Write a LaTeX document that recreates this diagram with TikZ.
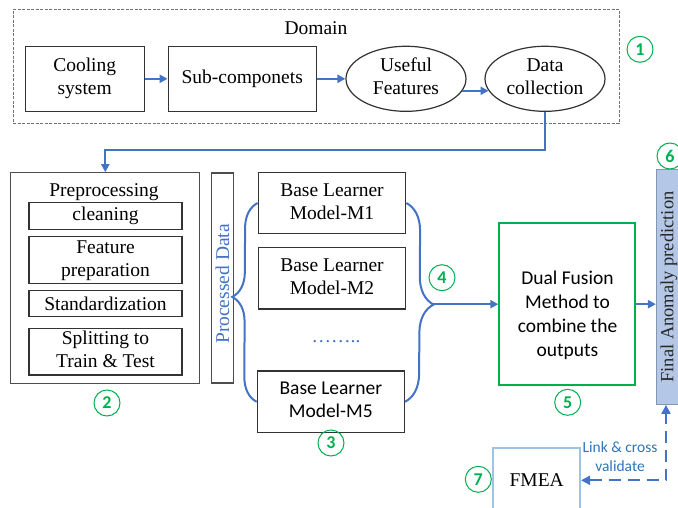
\documentclass[tikz,border=0pt]{standalone}
\usepackage{fontspec}
\setmainfont{Liberation Serif}
\newfontfamily\calibri{Carlito}
\usepackage{xcolor}
\usetikzlibrary{arrows.meta,decorations.pathreplacing,shapes.geometric}
\definecolor{flowblue}{HTML}{4472C4}
\definecolor{stepgreen}{HTML}{00B050}
\definecolor{linkblue}{HTML}{2E75B6}
\definecolor{finalfill}{HTML}{B4C7E7}
\definecolor{finaldraw}{HTML}{8497B0}
\definecolor{fmeadraw}{HTML}{9DC3E6}
\definecolor{boxline}{HTML}{333333}
\definecolor{prepline}{HTML}{4D4D4D}
\newcommand{\lines}[1]{\begin{tabular}{@{}c@{}}#1\end{tabular}}
\tikzset{
    plain-box/.style = {draw=boxline, line width=1.2pt, inner sep=0pt},
    prep-box/.style = {plain-box, minimum width=153pt},
    oval-box/.style = {draw=boxline, line width=1.2pt, ellipse, inner sep=0pt, minimum width=120pt, minimum height=65pt},
    flow/.style = {draw=flowblue, line width=2pt, -{Triangle[length=8pt,width=8pt]}},
    brace-line/.style 2 args = {draw=flowblue, line width=2pt, decorate, decoration={brace, amplitude=#1, aspect=#2}},
    link/.style = {draw=flowblue, line width=2pt, dash pattern=on 12pt off 7pt, {Triangle[length=9pt,width=9pt]}-{Triangle[length=9pt,width=9pt]}},
    step-num/.style = {circle, draw=stepgreen, line width=1pt, minimum size=26pt, inner sep=0pt, text=stepgreen, font=\calibri\bfseries\fontsize{18}{18}\selectfont},
}

\begin{document}
\begin{tikzpicture}[x=1pt, y=-1pt, font=\fontsize{19.5}{23}\selectfont]
\useasboundingbox (0,0) rectangle (678,508);
\clip (0,0) rectangle (678,508);

\node [draw=black!55, line width=1.2pt, dash pattern=on 3pt off 1.5pt, minimum width=606pt, minimum height=114pt, inner sep=0pt] (domain) at (316.2,66.2) {};
\node (domaintitle) at (316,28) {Domain};
\node [plain-box, minimum width=119pt, minimum height=65pt] (cooling) at (84.7,78.8) {\lines{Cooling\\system}};
\node [plain-box, minimum width=148pt, minimum height=65pt] (subcomp) at (242.2,78.8) {Sub-componets};
\node [oval-box] (useful) at (406,78.8) {\lines{Useful\\Features}};
\node [oval-box] (datacol) at (545,78.8) {\lines{Data\\collection}};
\node [step-num] (one) at (640,49.3) {1};

\draw [flow] (cooling) -- (subcomp);
\draw [flow] (subcomp) -- (useful);
\draw [flow] (useful.-12) -- (datacol.192);

\node [draw=prepline, line width=1.2pt, minimum width=189pt, minimum height=211pt, inner sep=0pt] (prep) at (105.3,278.3) {};
\node (preptitle) at (104,192) {Preprocessing};
\node [prep-box, minimum height=26.6pt] (clean) at (105.5,216) {cleaning};
\node [prep-box, minimum height=46.6pt] (featprep) at (105.5,260) {\lines{Feature\\preparation}};
\node [prep-box, minimum height=26pt] (stand) at (105.5,303.7) {Standardization};
\node [prep-box, minimum height=46.7pt] (split) at (105.5,351.7) {\lines{Splitting to\\Train \& Test}};
\node [step-num] (two) at (107,403) {2};

\draw [flow] (datacol.south) |- ([yshift=22pt]prep.north) -- (prep.north);

\node [rotate=90, draw=prepline, line width=1.2pt, minimum width=210pt, minimum height=21.6pt, inner sep=0pt] (procbar) at (222.5,278) {};
\node [rotate=90, text=flowblue] (proctext) at (222.5,284) {Processed Data};

\node [plain-box, minimum width=147.4pt, minimum height=60.6pt] (mone) at (332,203) {\lines{Base Learner\\Model-M1}};
\node [plain-box, minimum width=147.4pt, minimum height=61.3pt] (mtwo) at (332,278.3) {\lines{Base Learner\\Model-M2}};
\node [text=flowblue] (mdots) at (336,342) {……..};
\node [plain-box, minimum width=147pt, minimum height=61.7pt, font=\calibri\fontsize{19.5}{23}\selectfont] (mfive) at (330.8,401.8) {\lines{Base Learner\\Model-M5}};
\node [step-num] (three) at (331,443) {3};

\draw [brace-line={25pt}{0.527}] (mfive.west) -- (mone.west);
\draw [brace-line={28pt}{0.51}] (mone.east) -- (mfive.east);
\coordinate (join) at (433,304.2);
\node [step-num] (four) at (442,277.7) {4};

\node [draw=stepgreen, line width=2pt, minimum width=135.7pt, minimum height=161.7pt, inner sep=0pt] (dual) at (567.2,304.2) {};
\node [font=\calibri\fontsize{19.5}{24}\selectfont] (dualtext) at (567.5,315.5) {\lines{Dual Fusion\\Method to\\combine the\\outputs}};
\node [step-num] (five) at (567.7,402.3) {5};
\draw [flow] (join) -- (dual);

\node [rotate=90, draw=finaldraw, fill=finalfill, line width=1.2pt, minimum width=235pt, minimum height=31pt, inner sep=0pt] (final) at (672,286.8) {};
\node [rotate=90, text=black!85, font=\fontsize{18.5}{20}\selectfont] (finaltext) at (669,287) {Final Anomaly prediction};
\node [step-num] (six) at (670,156) {6};
\draw [flow] (dual.east) -- (dual.east -| final.north);

\node [draw=fmeadraw, line width=2pt, minimum width=86.7pt, minimum height=64pt, inner sep=0pt] (fmea) at (536.7,480.3) {FMEA};
\node [step-num] (seven) at (478.3,479.3) {7};
\draw [link] (fmea.east) -| ([xshift=-6pt]final.west);
\node [text=linkblue, font=\calibri\fontsize{15.5}{19}\selectfont] (linktext) at (620,458) {\lines{Link \& cross\\validate}};
\end{tikzpicture}
\end{document}
